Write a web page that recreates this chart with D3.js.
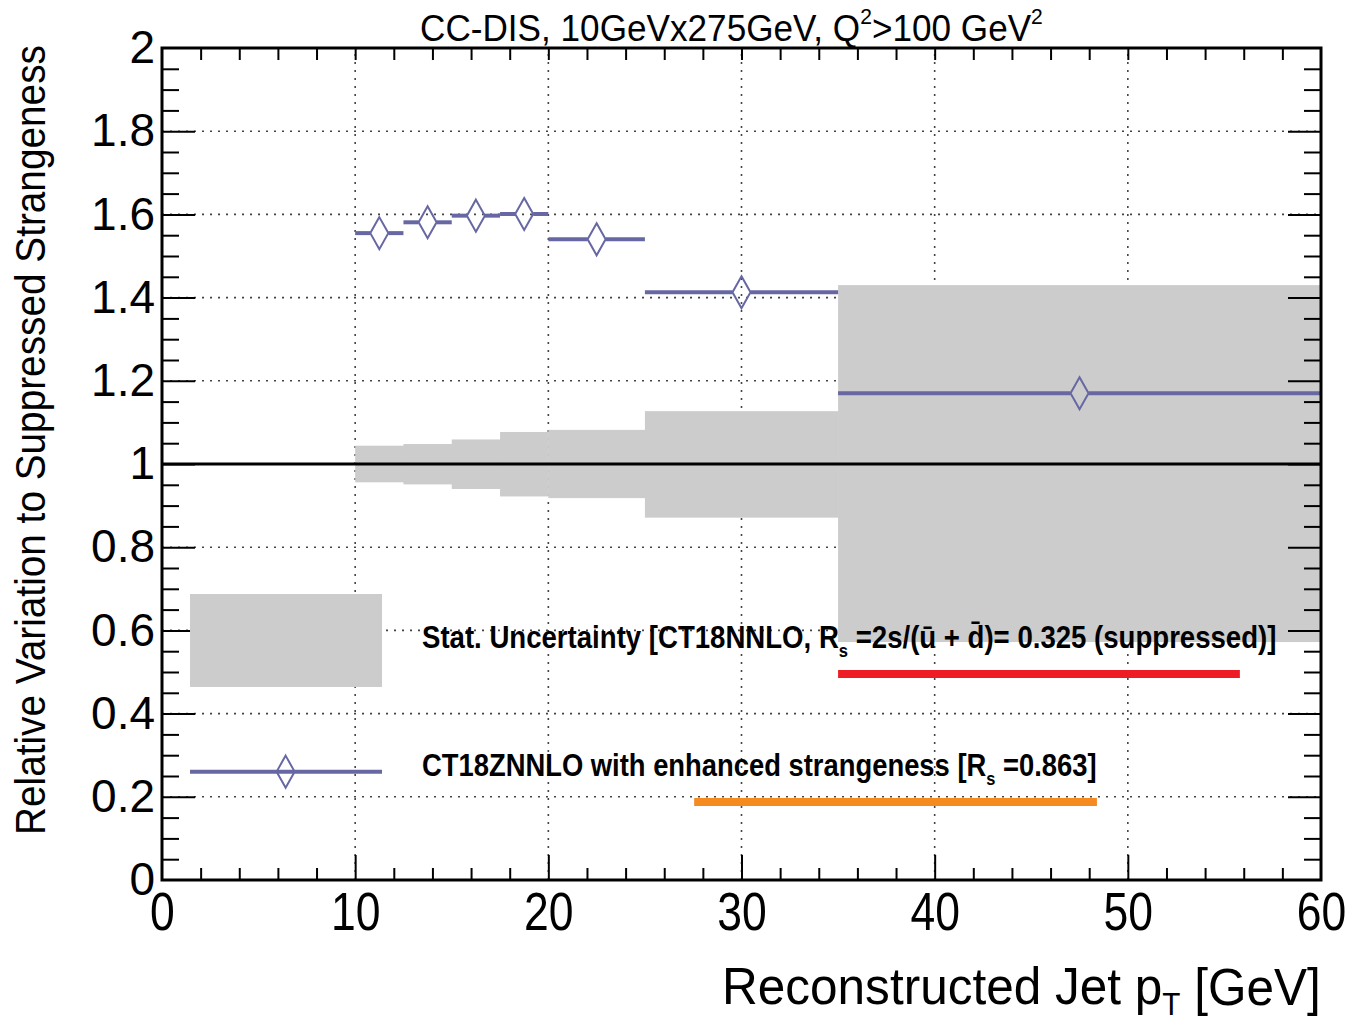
<!DOCTYPE html>
<html><head><meta charset="utf-8">
<script src="https://cdn.jsdelivr.net/npm/d3@7"></script>
<style>
html,body{margin:0;padding:0;background:#fff;}
svg{display:block;}
</style>
</head><body>
<svg id="c" width="1348" height="1027"></svg>
<script>
// ---- data ----
const binLow  = [10, 12.5, 15, 17.5, 20, 25, 35];
const binHigh = [12.5, 15, 17.5, 20, 25, 35, 60];
const enhanced = [1.555, 1.581, 1.597, 1.601, 1.540, 1.413, 1.170];
const statUp   = [1.044, 1.048, 1.059, 1.077, 1.082, 1.127, 1.430];
const statDown = [0.956, 0.951, 0.940, 0.922, 0.918, 0.871, 0.572];
const xMajor = [0, 10, 20, 30, 40, 50, 60];
const yMajor = [0, 0.2, 0.4, 0.6, 0.8, 1, 1.2, 1.4, 1.6, 1.8, 2];
const yTickLabels = ["0", "0.2", "0.4", "0.6", "0.8", "1", "1.2", "1.4", "1.6", "1.8", "2"];
const xMinor = d3.range(0, 60.001, 2);
const yMinor = d3.range(0, 2.0001, 0.05);
const annotations = [
  {x0: 35.0, x1: 55.8, y: 0.495, color: "#ee1c24"},
  {x0: 27.55, x1: 48.4, y: 0.1875, color: "#f58a1f"}
];

const svg = d3.select("#c");
const L = 162, R = 1321, T = 48, B = 880;
const x = d3.scaleLinear().domain([0, 60]).range([L, R]);
const y = d3.scaleLinear().domain([0, 2]).range([B, T]);
const BLUE = "#6767a3";
const narrow = "'Liberation Sans Narrow','Arial Narrow','Liberation Sans',Arial,sans-serif";
const wide = "'Liberation Sans',Arial,sans-serif";

// grid
const grid = svg.append("g").attr("stroke", "#444").attr("stroke-width", 1.6).attr("stroke-dasharray", "2,6");
xMajor.filter(v => v > 0 && v < 60).forEach(v => {
  grid.append("line").attr("x1", x(v)).attr("x2", x(v)).attr("y1", B).attr("y2", T);
});
yMajor.filter(v => v > 0 && v < 2).forEach(v => {
  grid.append("line").attr("x1", L).attr("x2", R).attr("y1", y(v)).attr("y2", y(v));
});

// stat band
const bins = binLow.map((lo, i) => ({lo, hi: binHigh[i], v: enhanced[i], up: statUp[i], dn: statDown[i]}));
svg.append("g").selectAll("rect").data(bins).join("rect")
  .attr("x", d => x(d.lo)).attr("width", d => x(d.hi) - x(d.lo) + 0.5)
  .attr("y", d => y(d.up)).attr("height", d => y(d.dn) - y(d.up))
  .attr("fill", "#cccccc");

// reference line at 1
svg.append("line").attr("x1", x(0)).attr("x2", x(60)).attr("y1", y(1)).attr("y2", y(1))
  .attr("stroke", "#000").attr("stroke-width", 3);

// enhanced strangeness points
const HW = 9, HH = 16;
const pts = svg.append("g");
bins.forEach(d => {
  const cx = x((d.lo + d.hi) / 2), cy = y(d.v);
  pts.append("line").attr("x1", x(d.lo)).attr("x2", cx - HW).attr("y1", cy).attr("y2", cy)
    .attr("stroke", BLUE).attr("stroke-width", 4);
  pts.append("line").attr("x1", cx + HW).attr("x2", x(d.hi)).attr("y1", cy).attr("y2", cy)
    .attr("stroke", BLUE).attr("stroke-width", 4);
  pts.append("path").attr("d", `M${cx},${cy - HH}L${cx + HW},${cy}L${cx},${cy + HH}L${cx - HW},${cy}Z`)
    .attr("fill", "none").attr("stroke", BLUE).attr("stroke-width", 2);
});

// axes ticks
function ax(gen, tr) {
  const g = svg.append("g").attr("transform", tr).call(gen);
  g.select(".domain").remove();
  g.selectAll(".tick line").attr("stroke", "#000").attr("stroke-width", 2);
  return g;
}
const xb = ax(d3.axisBottom(x).tickValues(xMajor).tickSize(-25).tickPadding(12).tickFormat(d3.format("d")), `translate(0,${B})`);
xb.selectAll("text").attr("font-family", wide).attr("font-size", 53).attr("fill", "#000")
  .attr("transform", "scale(0.84,1)");
xb.selectAll(".tick").filter(d => d === 0 || d === 60).select("line").remove();
ax(d3.axisBottom(x).tickValues(xMinor.filter(v => v % 10 !== 0)).tickSize(-12).tickFormat(""), `translate(0,${B})`);
ax(d3.axisTop(x).tickValues(xMinor.filter(v => v > 0 && v < 60)).tickSize(-12).tickFormat(""), `translate(0,${T})`);

const yl = ax(d3.axisLeft(y).tickValues(yMajor).tickSize(-33).tickPadding(7).tickFormat((d, i) => yTickLabels[i]), `translate(${L},0)`);
yl.selectAll("text").attr("font-family", wide).attr("font-size", 46).attr("fill", "#000");
yl.selectAll(".tick").filter(d => d === 0 || d === 2).select("line").remove();
const isMajorY = v => Math.abs(v * 5 - Math.round(v * 5)) < 1e-6;
ax(d3.axisLeft(y).tickValues(yMinor.filter(v => !isMajorY(v))).tickSize(-17).tickFormat(""), `translate(${L},0)`);
ax(d3.axisRight(y).tickValues(yMajor.filter(v => v > 0 && v < 2)).tickSize(-33).tickFormat(""), `translate(${R},0)`);
ax(d3.axisRight(y).tickValues(yMinor.filter(v => !isMajorY(v))).tickSize(-17).tickFormat(""), `translate(${R},0)`);

// frame
svg.append("rect").attr("x", L).attr("y", T).attr("width", R - L).attr("height", B - T)
  .attr("fill", "none").attr("stroke", "#000").attr("stroke-width", 3);

// annotations (underline marks)
svg.append("g").selectAll("line").data(annotations).join("line")
  .attr("x1", d => x(d.x0)).attr("x2", d => x(d.x1)).attr("y1", d => y(d.y)).attr("y2", d => y(d.y))
  .attr("stroke", d => d.color).attr("stroke-width", 8);

// legend
svg.append("rect").attr("x", x(1.45)).attr("y", y(0.6875)).attr("width", x(11.39) - x(1.45))
  .attr("height", y(0.464) - y(0.6875)).attr("fill", "#cccccc");
{
  const ly = y(0.2605), lx0 = x(1.45), lx1 = x(11.39), cx = x(6.4);
  svg.append("line").attr("x1", lx0).attr("x2", lx1).attr("y1", ly).attr("y2", ly).attr("stroke", BLUE).attr("stroke-width", 4);
  svg.append("path").attr("d", `M${cx},${ly - HH}L${cx + HW},${ly}L${cx},${ly + HH}L${cx - HW},${ly}Z`)
    .attr("fill", "none").attr("stroke", BLUE).attr("stroke-width", 2);
}

// condense a text horizontally so it spans target width (narrow-font look)
function condense(sel, ox, oy, target) {
  const w = sel.node().getBBox().width;
  const s = target / w;
  sel.attr("transform", `translate(${ox},${oy}) scale(${s},1)`);
}

function mk(fs, weight) {
  return svg.append("text").attr("x", 0).attr("y", 0).attr("font-family", narrow)
    .attr("font-size", fs).attr("font-weight", weight || "normal").attr("fill", "#000");
}

const t1 = mk(31, "bold");
t1.append("tspan").text("Stat. Uncertainty [CT18NNLO, R");
t1.append("tspan").attr("font-size", "0.6em").attr("dy", "0.5em").text("s");
t1.append("tspan").attr("dy", "-0.3em").text(" =2s/(\u016B + d\u0304)= 0.325 (suppressed)]");
condense(t1, 422, 648, 855);

const t2 = mk(31, "bold");
t2.append("tspan").text("CT18ZNNLO with enhanced strangeness [R");
t2.append("tspan").attr("font-size", "0.6em").attr("dy", "0.5em").text("s");
t2.append("tspan").attr("dy", "-0.3em").text(" =0.863]");
condense(t2, 422, 776, 675);

// title
const tt = mk(37);
tt.append("tspan").text("CC-DIS, 10GeVx275GeV, Q");
tt.append("tspan").attr("font-size", "0.6em").attr("dy", "-0.75em").text("2");
tt.append("tspan").attr("dy", "0.45em").text(">100 GeV");
tt.append("tspan").attr("font-size", "0.6em").attr("dy", "-0.75em").text("2");
condense(tt, 420, 41, 623);

// x title
const xt = mk(52);
xt.append("tspan").text("Reconstructed Jet p");
xt.append("tspan").attr("font-size", "0.6em").attr("dy", "0.35em").text("T");
xt.append("tspan").attr("dy", "-0.2em").text(" [GeV]");
condense(xt, 722, 1004, 599);

// y title
const yt = mk(42).text("Relative Variation to Suppressed Strangeness");
{
  const w = yt.node().getBBox().width;
  yt.attr("transform", `translate(45,835) rotate(-90) scale(${790 / w},1)`);
}
</script>
</body></html>
